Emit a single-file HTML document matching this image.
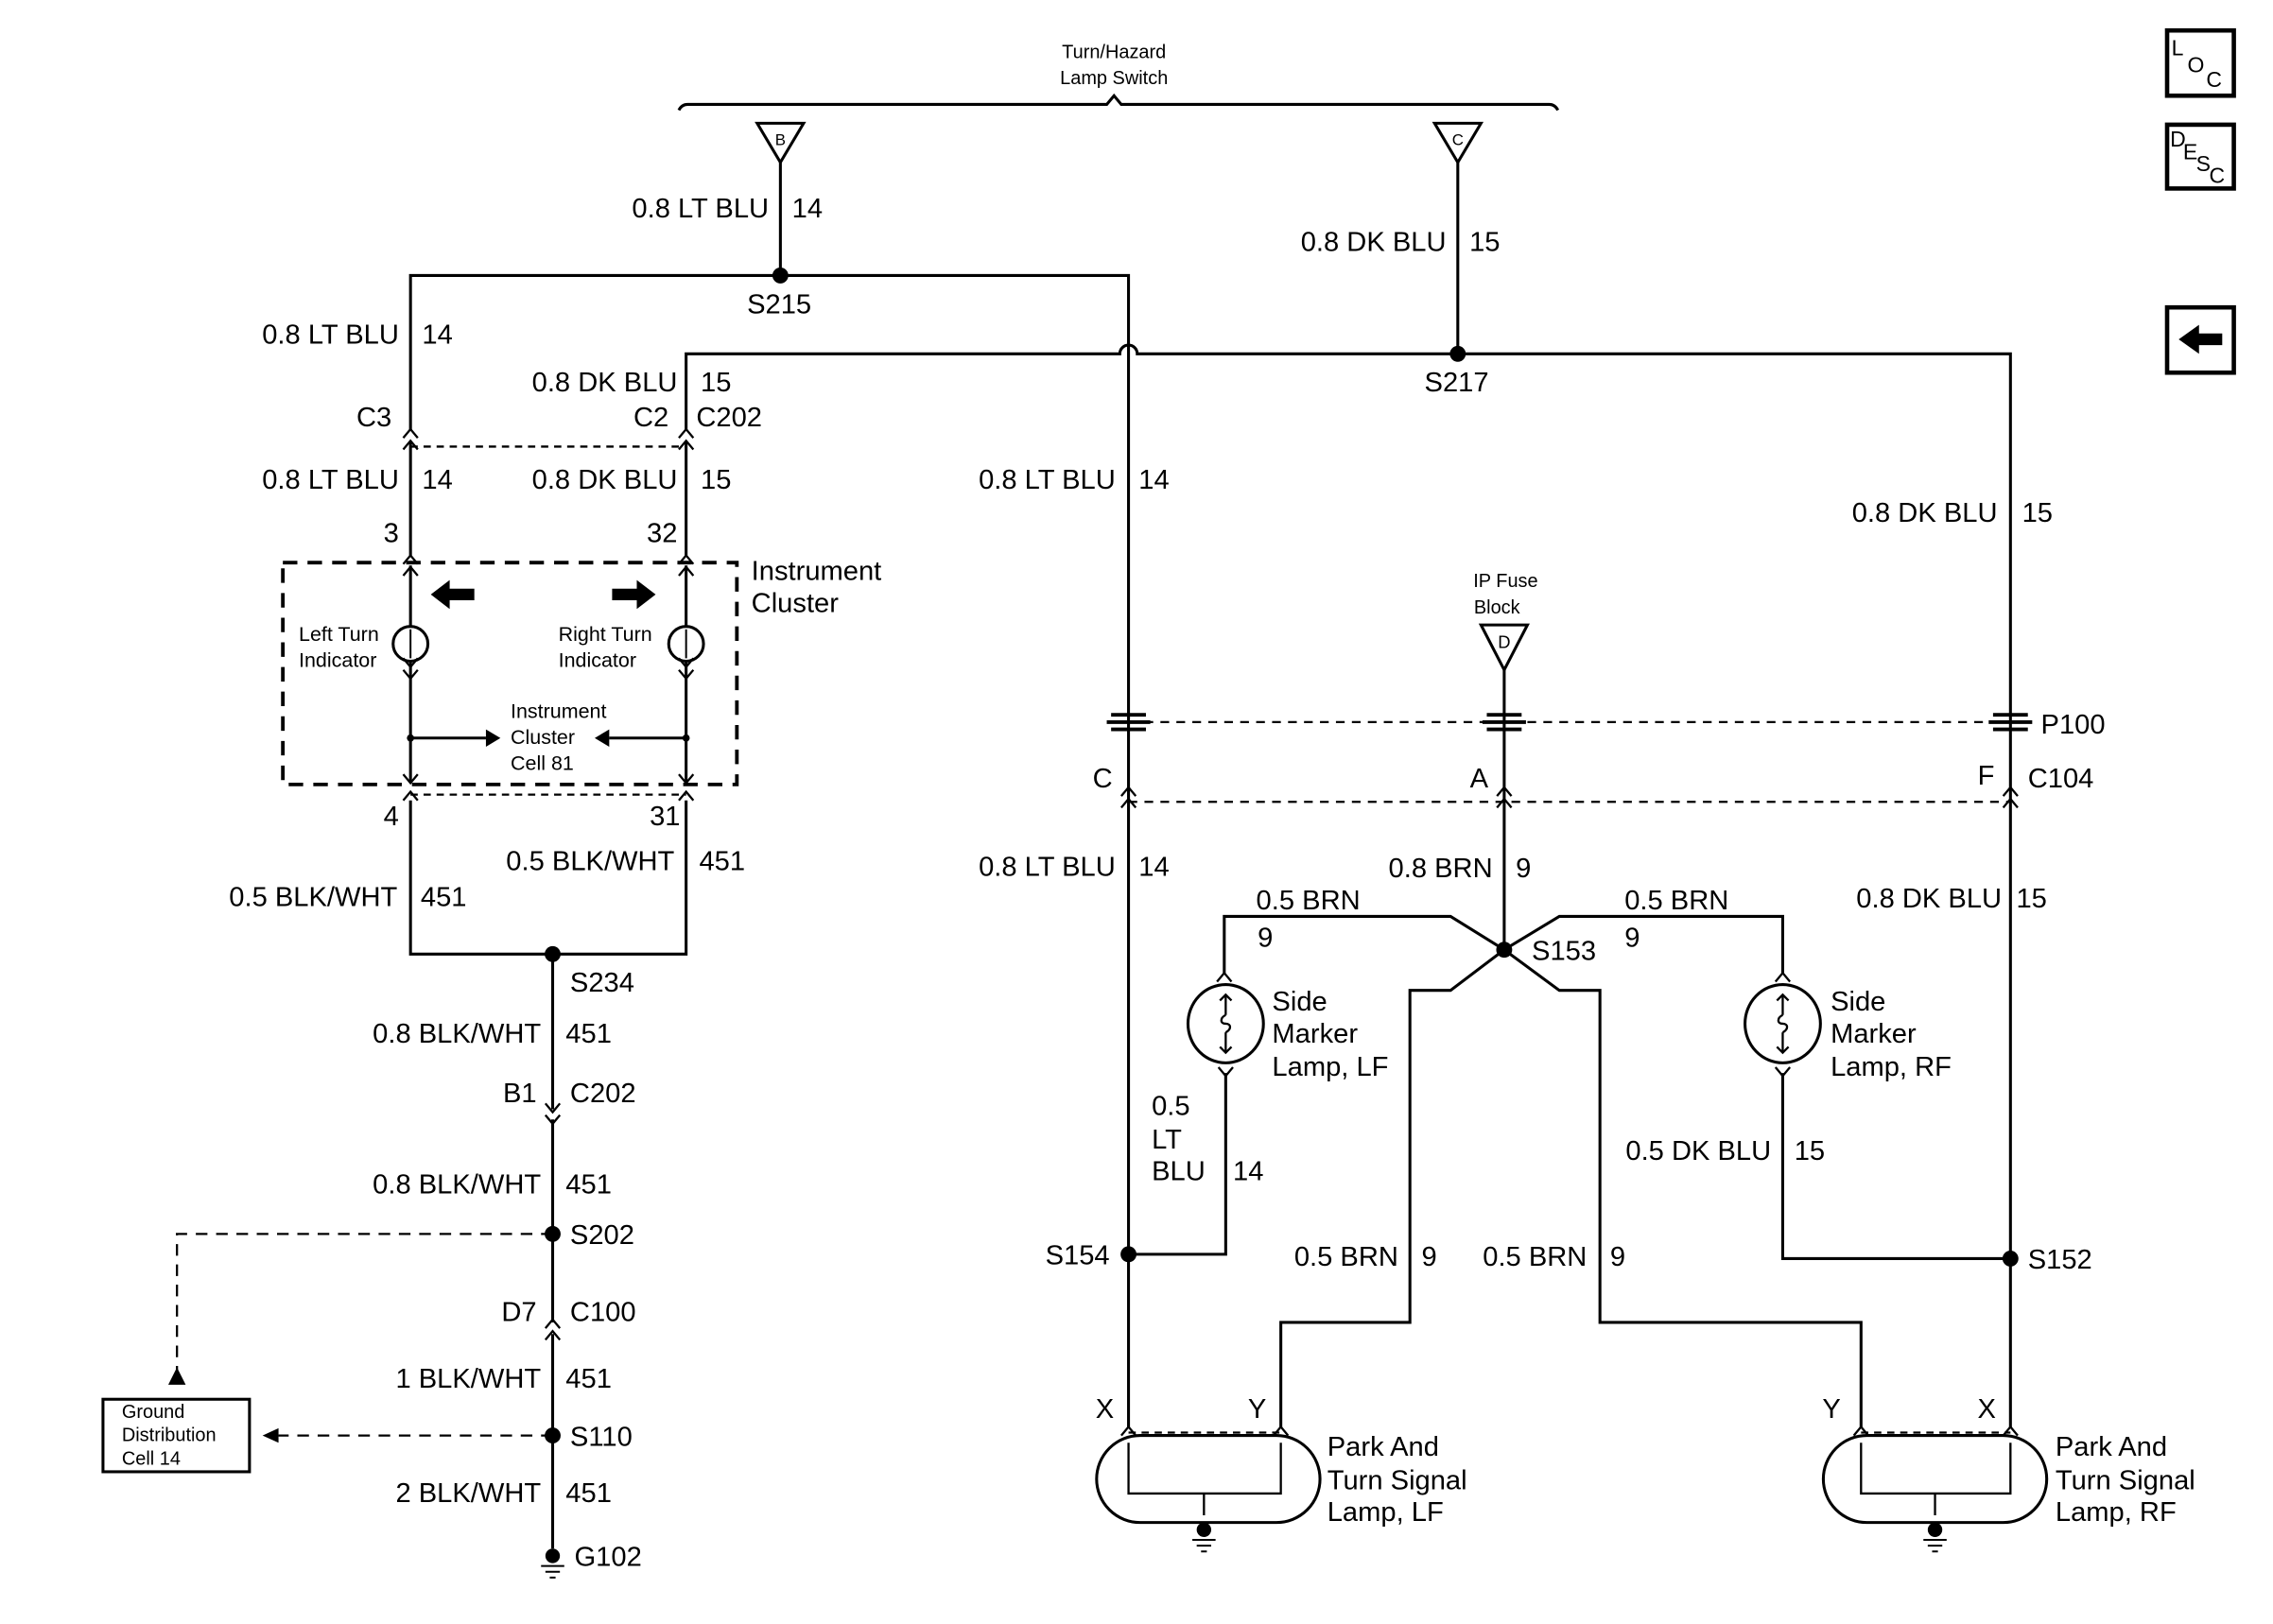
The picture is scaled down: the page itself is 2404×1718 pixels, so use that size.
<!DOCTYPE html>
<html><head><meta charset="utf-8"><style>
html,body{margin:0;padding:0;background:#fff;}
svg{display:block;}
text{font-family:"Liberation Sans",Arial,sans-serif;fill:#000;}
</style></head><body>
<svg width="2404" height="1718" viewBox="0 0 1567 1120" preserveAspectRatio="none" xmlns="http://www.w3.org/2000/svg">
<g fill="none" stroke="#000" stroke-width="2">
<path d="M468,76 Q470,72 474,72 L763,72 L768,66 L773,72 L1068,72 Q1072,72 1074,76"/>
<polygon points="522,85 554,85 538,112"/>
<polygon points="989,85 1021,85 1005,112"/>
<polygon points="1021,431 1053,431 1037,462"/>
<path d="M538,112 V190"/>
<path d="M1005,112 V244"/>
<path d="M283,297 V190 H778 V985"/>
<path d="M473,297 V244 H772 A6,6 0 0 1 784,244 H1386 V985"/>
<path d="M283,305 V383"/><path d="M473,305 V383"/>
<path d="M1037,462 V655"/>
<path d="M283,390 V432"/><path d="M473,390 V432"/>
<path d="M283,456 V540"/><path d="M473,456 V540"/>
<path d="M283,509 H335"/><path d="M473,509 H420"/>
<path d="M283,552 V658 H473 V552"/>
<path d="M381,658 V765"/><path d="M381,772 V912"/><path d="M381,920 V1068"/>
<path d="M1037,655 L1000,632 H844 V672"/>
<path d="M1037,655 L1075,632 H1229 V672"/>
<path d="M1037,655 L1000,683 H972 V912 H883 V985"/>
<path d="M1037,655 L1075,683 H1103 V912 H1283 V985"/>
<path d="M845,740 V865 H778"/>
<path d="M1229,740 V868 H1386"/>
<ellipse cx="845" cy="706" rx="26" ry="27"/>
<ellipse cx="1229" cy="706" rx="26" ry="27"/>
<path d="M845,686 V700 M845,712 V726 M841,690 L845,686 L849,690 M841,722 L845,726 L849,722 M845,700 C841,702 841,706 845,706 C849,706 849,710 845,712" stroke-width="1.5"/>
<path d="M1229,686 V700 M1229,712 V726 M1225,690 L1229,686 L1233,690 M1225,722 L1229,726 L1233,722 M1229,700 C1225,702 1225,706 1229,706 C1233,706 1233,710 1229,712" stroke-width="1.5"/>
<circle cx="283" cy="444" r="12"/><circle cx="473" cy="444" r="12"/>
<path d="M283,434 V454 M473,434 V454" stroke-width="1.3"/>
<rect x="195" y="388" width="313" height="153" stroke-dasharray="10,7" stroke-width="2.5"/>
<path d="M283,308 H473" stroke-dasharray="5,4" stroke-width="1.5"/>
<path d="M283,548 H473" stroke-dasharray="5,4" stroke-width="1.5"/>
<path d="M778,498 H1386" stroke-dasharray="6,5" stroke-width="1.5"/>
<path d="M778,553 H1386" stroke-dasharray="6,5" stroke-width="1.5"/>
<path d="M778,988 H883" stroke-dasharray="5,4" stroke-width="1.5"/>
<path d="M1283,988 H1386" stroke-dasharray="5,4" stroke-width="1.5"/>
<path d="M381,851 H122 V945" stroke-dasharray="8,6" stroke-width="1.5"/>
<path d="M381,990 H192" stroke-dasharray="8,6" stroke-width="1.5"/>
<rect x="71" y="965" width="101" height="50"/>
<g stroke-width="1.5">
<path d="M278,302 L283,296 L288,302 M278,310 L283,304 L288,310"/>
<path d="M468,302 L473,296 L478,302 M468,310 L473,304 L478,310"/>
<path d="M278,389 L283,383 L288,389 M278,397 L283,391 L288,397"/>
<path d="M468,389 L473,383 L478,389 M468,397 L473,391 L478,397"/>
<path d="M278,462 L283,468 L288,462 M278,454 L283,460 L288,454"/>
<path d="M468,462 L473,468 L478,462 M468,454 L473,460 L478,454"/>
<path d="M278,534 L283,540 L288,534 M278,552 L283,546 L288,552"/>
<path d="M468,534 L473,540 L478,534 M468,552 L473,546 L478,552"/>
<path d="M376,761 L381,767 L386,761 M376,769 L381,775 L386,769"/>
<path d="M376,916 L381,910 L386,916 M376,924 L381,918 L386,924"/>
<path d="M773,549 L778,543 L783,549 M773,557 L778,551 L783,557"/>
<path d="M1032,549 L1037,543 L1042,549 M1032,557 L1037,551 L1042,557"/>
<path d="M1381,549 L1386,543 L1391,549 M1381,557 L1386,551 L1391,557"/>
<path d="M839,677 L844,671 L849,677 M840,736 L845,742 L850,736"/>
<path d="M1224,677 L1229,671 L1234,677 M1224,736 L1229,742 L1234,736"/>
<path d="M773,990 L778,984 L783,990 M878,990 L883,984 L888,990"/>
<path d="M1278,990 L1283,984 L1288,990 M1381,990 L1386,984 L1391,990"/>
</g>
<g stroke-width="2.5">
<path d="M766,493 H790 M763,498 H793 M766,503 H790"/>
<path d="M1025,493 H1049 M1022,498 H1052 M1025,503 H1049"/>
<path d="M1374,493 H1398 M1371,498 H1401 M1374,503 H1398"/>
</g>
<rect x="756" y="990" width="154" height="60" rx="30"/>
<rect x="1257" y="990" width="154" height="60" rx="30"/>
<path d="M778,995 V1030 H883 V995 M830,1030 V1045" stroke-width="1.5"/>
<path d="M1283,995 V1030 H1386 V995 M1334,1030 V1045" stroke-width="1.5"/>
<path d="M822,1062 H838 M825,1066 H835 M828,1070 H832" stroke-width="1.3"/>
<path d="M1326,1062 H1342 M1329,1066 H1339 M1332,1070 H1336" stroke-width="1.3"/>
<path d="M373,1080 H389 M376,1084 H386 M379,1088 H383" stroke-width="1.3"/>
<rect x="1494" y="21" width="46" height="45" stroke-width="3"/>
<rect x="1494" y="86" width="46" height="44" stroke-width="3"/>
<rect x="1494" y="212" width="46" height="45" stroke-width="3"/>
</g>
<g fill="#000">
<circle cx="538" cy="190" r="5.5"/><circle cx="1005" cy="244" r="5.5"/>
<circle cx="381" cy="658" r="5.5"/><circle cx="381" cy="851" r="5.5"/><circle cx="381" cy="990" r="5.5"/>
<circle cx="1037" cy="655" r="5.5"/><circle cx="778" cy="865" r="5.5"/><circle cx="1386" cy="868" r="5.5"/>
<circle cx="830" cy="1055" r="5"/><circle cx="1334" cy="1055" r="5"/><circle cx="381" cy="1073" r="5"/>
<circle cx="283" cy="509" r="2.5"/><circle cx="473" cy="509" r="2.5"/>
<polygon points="335,503 345,509 335,515"/><polygon points="420,503 410,509 420,515"/>
<polygon points="116,955 128,955 122,943"/><polygon points="192,985 192,995 181,990"/>
<polygon points="297,410 310,400 310,406 327,406 327,414 310,414 310,420"/>
<polygon points="452,410 439,400 439,406 422,406 422,414 439,414 439,420"/>
<polygon points="1502,234 1516,224 1516,230 1532,230 1532,238 1516,238 1516,244"/>
</g>
<g font-size="13" text-anchor="middle">
<text x="768" y="40">Turn/Hazard</text><text x="768" y="58">Lamp Switch</text>
<text x="1038" y="405">IP Fuse</text><text x="1032" y="423">Block</text>
<text x="538" y="100" font-size="11">B</text><text x="1005" y="100" font-size="11">C</text><text x="1037" y="447" font-size="12">D</text>
</g>
<g font-size="14">
<text x="206" y="442">Left Turn</text><text x="206" y="460">Indicator</text>
<text x="385" y="442">Right Turn</text><text x="385" y="460">Indicator</text>
<text x="352" y="495">Instrument</text><text x="352" y="513">Cluster</text><text x="352" y="531">Cell 81</text>
<text x="84" y="978" font-size="13">Ground</text><text x="84" y="994" font-size="13">Distribution</text><text x="84" y="1010" font-size="13">Cell 14</text>
</g>
<g font-size="15">
<text x="1497" y="38">L</text><text x="1508" y="50">O</text><text x="1521" y="60">C</text>
<text x="1496" y="101">D</text><text x="1505" y="110">E</text><text x="1514" y="118">S</text><text x="1523" y="126">C</text>
</g>
<g font-size="19">
<g text-anchor="end">
<text x="530" y="150">0.8 LT BLU</text>
<text x="997" y="173">0.8 DK BLU</text>
<text x="275" y="237">0.8 LT BLU</text>
<text x="467" y="270">0.8 DK BLU</text>
<text x="270" y="294">C3</text><text x="461" y="294">C2</text>
<text x="275" y="337">0.8 LT BLU</text><text x="467" y="337">0.8 DK BLU</text>
<text x="275" y="374">3</text><text x="467" y="374">32</text>
<text x="275" y="569">4</text><text x="469" y="569">31</text>
<text x="465" y="600">0.5 BLK/WHT</text>
<text x="274" y="625">0.5 BLK/WHT</text>
<text x="373" y="719">0.8 BLK/WHT</text>
<text x="370" y="760">B1</text>
<text x="373" y="823">0.8 BLK/WHT</text>
<text x="370" y="911">D7</text>
<text x="373" y="957">1 BLK/WHT</text>
<text x="373" y="1036">2 BLK/WHT</text>
<text x="769" y="337">0.8 LT BLU</text>
<text x="1377" y="360">0.8 DK BLU</text>
<text x="767" y="543">C</text><text x="1026" y="543">A</text><text x="1375" y="541">F</text>
<text x="769" y="604">0.8 LT BLU</text>
<text x="1029" y="605">0.8 BRN</text>
<text x="1380" y="626">0.8 DK BLU</text>
<text x="1221" y="800">0.5 DK BLU</text>
<text x="765" y="872">S154</text>
<text x="964" y="873">0.5 BRN</text><text x="1094" y="873">0.5 BRN</text>
<text x="768" y="978">X</text><text x="873" y="978">Y</text>
<text x="1269" y="978">Y</text><text x="1376" y="978">X</text>
</g>
<text x="546" y="150">14</text>
<text x="1013" y="173">15</text>
<text x="291" y="237">14</text>
<text x="483" y="270">15</text>
<text x="480" y="294">C202</text>
<text x="291" y="337">14</text><text x="483" y="337">15</text>
<text x="515" y="216">S215</text>
<text x="982" y="270">S217</text>
<text x="518" y="400">Instrument</text><text x="518" y="422">Cluster</text>
<text x="482" y="600">451</text><text x="290" y="625">451</text>
<text x="393" y="684">S234</text>
<text x="390" y="719">451</text>
<text x="393" y="760">C202</text>
<text x="390" y="823">451</text>
<text x="393" y="858">S202</text>
<text x="393" y="911">C100</text>
<text x="390" y="957">451</text>
<text x="393" y="997">S110</text>
<text x="390" y="1036">451</text>
<text x="396" y="1080">G102</text>
<text x="785" y="337">14</text>
<text x="1394" y="360">15</text>
<text x="1407" y="506">P100</text>
<text x="1398" y="543">C104</text>
<text x="785" y="604">14</text>
<text x="1045" y="605">9</text>
<text x="1390" y="626">15</text>
<text x="866" y="627">0.5 BRN</text><text x="867" y="653">9</text>
<text x="1120" y="627">0.5 BRN</text><text x="1120" y="653">9</text>
<text x="1056" y="662">S153</text>
<text x="877" y="697">Side</text><text x="877" y="719">Marker</text><text x="877" y="742">Lamp, LF</text>
<text x="1262" y="697">Side</text><text x="1262" y="719">Marker</text><text x="1262" y="742">Lamp, RF</text>
<text x="794" y="769">0.5</text><text x="794" y="792">LT</text><text x="794" y="814">BLU</text>
<text x="850" y="814">14</text>
<text x="1237" y="800">15</text>
<text x="1398" y="875">S152</text>
<text x="980" y="873">9</text><text x="1110" y="873">9</text>
<text x="915" y="1004">Park And</text><text x="915" y="1027">Turn Signal</text><text x="915" y="1049">Lamp, LF</text>
<text x="1417" y="1004">Park And</text><text x="1417" y="1027">Turn Signal</text><text x="1417" y="1049">Lamp, RF</text>
</g>
</svg>
</body></html>
